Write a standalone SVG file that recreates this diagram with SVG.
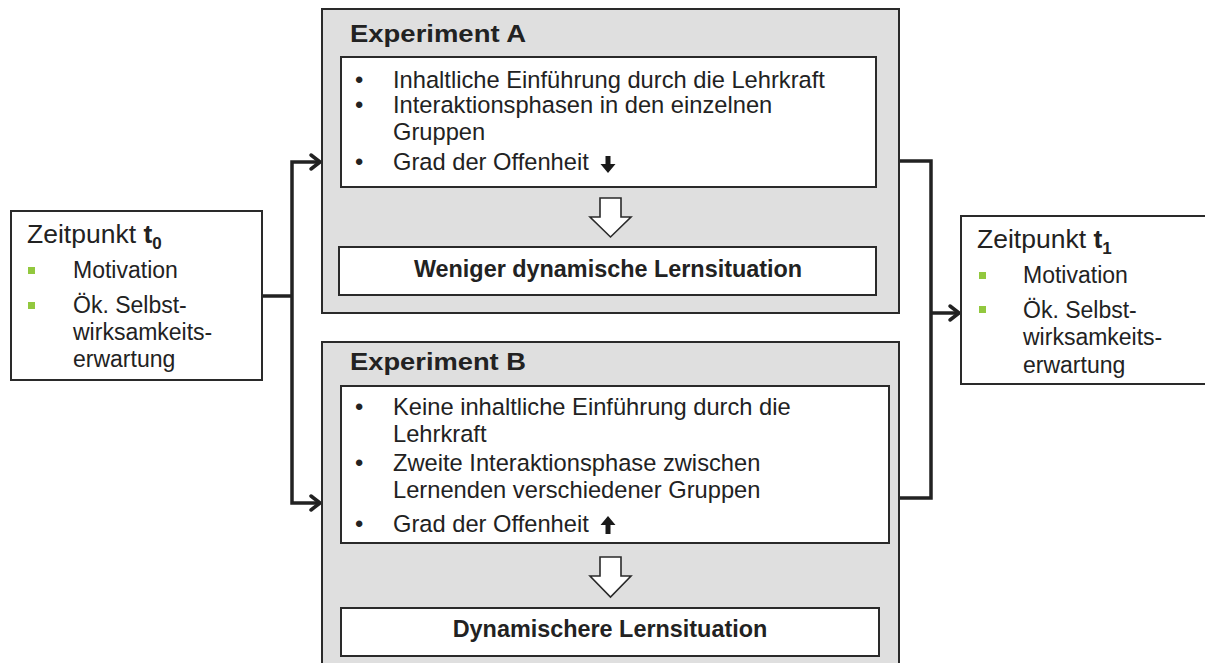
<svg xmlns="http://www.w3.org/2000/svg" width="1205" height="663" viewBox="0 0 1205 663">
<defs>
<style>
.bg{fill:#ffffff}
.outer{fill:#dfdfdf;stroke:#2a2a2a;stroke-width:2}
.box{fill:#ffffff;stroke:#2a2a2a;stroke-width:2}
.conn{fill:none;stroke:#222222;stroke-width:3.5;stroke-linejoin:miter}
.head{fill:none;stroke:#222222;stroke-width:3.5;stroke-linecap:round;stroke-linejoin:round}
.hollow{fill:#ffffff;stroke:#2a2a2a;stroke-width:1.6;stroke-linejoin:miter}
.t{font-family:"Liberation Sans",Arial,sans-serif;fill:#222222}
.title{font-size:26.5px}
.item{font-size:23px}
.li{font-size:23.7px}
.hdr{font-size:24.5px;font-weight:bold}
.res{font-size:23.4px;font-weight:bold}
.sq{fill:#92c83e}
.ico{fill:#1a1a1a}
</style>
</defs>
<rect class="bg" x="0" y="0" width="1205" height="663"/>

<g id="connectors">
<polyline class="conn" points="262,296 292,296"/>
<polyline class="conn" points="319,162 292,162 292,503 319,503"/>
<polyline class="head" points="311,155 320,162 311,169"/>
<polyline class="head" points="311,496 320,503 311,510"/>
<polyline class="conn" points="899,161 931,161 931,498 899,498"/>
<polyline class="conn" points="931,313 958,313"/>
<polyline class="head" points="950,306 959,313 950,320"/>
</g>

<g id="zeitpunkt-t0">
<rect class="box" x="11" y="211" width="251" height="169"/>
<text class="t title" x="27" y="243">Zeitpunkt <tspan font-weight="bold">t</tspan><tspan font-weight="bold" font-size="17" dy="6">0</tspan></text>
<rect class="sq" x="28" y="267" width="7" height="7"/>
<text class="t item" x="73" y="278">Motivation</text>
<rect class="sq" x="28" y="302" width="7" height="7"/>
<text class="t item" x="73" y="313">Ök. Selbst-</text>
<text class="t item" x="73" y="340">wirksamkeits-</text>
<text class="t item" x="73" y="367">erwartung</text>
</g>

<g id="experiment-a">
<rect class="outer" x="322" y="9" width="577" height="304"/>
<text class="t hdr" x="350" y="42" textLength="176" lengthAdjust="spacingAndGlyphs">Experiment A</text>
<rect class="box" x="341" y="57" width="535" height="130"/>
<text class="t li" x="355" y="88">•</text>
<text class="t li" x="393" y="88">Inhaltliche Einführung durch die Lehrkraft</text>
<text class="t li" x="355" y="113">•</text>
<text class="t li" x="393" y="113">Interaktionsphasen in den einzelnen</text>
<text class="t li" x="393" y="140">Gruppen</text>
<text class="t li" x="355" y="170">•</text>
<text class="t li" x="393" y="170">Grad der Offenheit</text>
<polygon class="ico" points="605.5,156 610.5,156 610.5,164 615.5,164 608,173 600.5,164 605.5,164"/>
<polygon class="hollow" points="600,198 621,198 621,217 631,217 610.5,237 590,217 600,217"/>
<rect class="box" x="339" y="247" width="537" height="48"/>
<text class="t res" x="608" y="277" text-anchor="middle">Weniger dynamische Lernsituation</text>
</g>

<g id="experiment-b">
<rect class="outer" x="322" y="342" width="577" height="330"/>
<text class="t hdr" x="350" y="370" textLength="176" lengthAdjust="spacingAndGlyphs">Experiment B</text>
<rect class="box" x="341" y="386" width="548" height="157"/>
<text class="t li" x="355" y="415">•</text>
<text class="t li" x="393" y="415">Keine inhaltliche Einführung durch die</text>
<text class="t li" x="393" y="442">Lehrkraft</text>
<text class="t li" x="355" y="471">•</text>
<text class="t li" x="393" y="471">Zweite Interaktionsphase zwischen</text>
<text class="t li" x="393" y="498">Lernenden verschiedener Gruppen</text>
<text class="t li" x="355" y="532">•</text>
<text class="t li" x="393" y="532">Grad der Offenheit</text>
<polygon class="ico" points="605.5,534 610.5,534 610.5,525 615.5,525 608,516 600.5,525 605.5,525"/>
<polygon class="hollow" points="600,557 621,557 621,576 631,576 610.5,597 590,576 600,576"/>
<rect class="box" x="341" y="608" width="538" height="48"/>
<text class="t res" x="610" y="637" text-anchor="middle">Dynamischere Lernsituation</text>
</g>

<g id="zeitpunkt-t1">
<rect class="box" x="961" y="216" width="260" height="168"/>
<text class="t title" x="977" y="248">Zeitpunkt <tspan font-weight="bold">t</tspan><tspan font-weight="bold" font-size="17" dy="6">1</tspan></text>
<rect class="sq" x="979" y="272" width="7" height="7"/>
<text class="t item" x="1023" y="283">Motivation</text>
<rect class="sq" x="979" y="306" width="7" height="7"/>
<text class="t item" x="1023" y="318">Ök. Selbst-</text>
<text class="t item" x="1023" y="345">wirksamkeits-</text>
<text class="t item" x="1023" y="373">erwartung</text>
</g>
</svg>
